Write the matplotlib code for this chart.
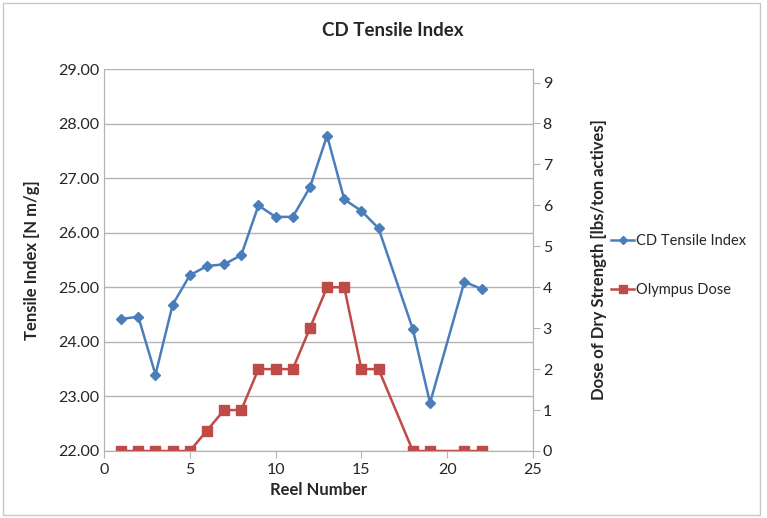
import matplotlib
matplotlib.use('Agg')
import matplotlib.pyplot as plt
from matplotlib.patches import Rectangle

plt.rcParams['font.family'] = ['Lato', 'DejaVu Sans']

# Reel data
reel = [1, 2, 3, 4, 5, 6, 7, 8, 9, 10, 11, 12, 13, 14, 15, 16, 18, 19, 21, 22]
tensile = [24.42, 24.46, 23.40, 24.68, 25.22, 25.39, 25.42, 25.59, 26.50, 26.29,
           26.29, 26.83, 27.78, 26.61, 26.40, 26.08, 24.23, 22.88, 25.10, 24.97]
dose = [0, 0, 0, 0, 0, 0.5, 1, 1, 2, 2, 2, 3, 4, 4, 2, 2, 0, 0, 0, 0]

left_ticks = [22, 23, 24, 25, 26, 27, 28, 29]
right_ticks = list(range(10))
x_ticks = [0, 5, 10, 15, 20, 25]

blue = '#4A7EBB'
red = '#BE4B48'
grid_c = '#B3B3B3'
text_c = '#262626'

fig = plt.figure(figsize=(7.67, 5.18), dpi=100)
ax = fig.add_axes([104 / 767, 1 - 451 / 518, 429 / 767, 382 / 518])
ax2 = ax.twinx()

l1, = ax.plot(reel, tensile, color=blue, lw=1.8, marker='D', ms=5.5,
              label='CD Tensile Index')
l2, = ax2.plot(reel, dose, color=red, lw=1.8, marker='s', ms=6.5,
               label='Olympus Dose')

ax.set_xlim(0, 25)
ax.set_ylim(22, 29)
ax2.set_ylim(0, 9 * (382 / 368.5))
ax.set_xticks(x_ticks)
ax.set_yticks(left_ticks)
ax.set_yticklabels([f'{v:.2f}' for v in left_ticks])
ax2.set_yticks(right_ticks)

ax.yaxis.grid(True, color=grid_c, lw=1)
ax.set_axisbelow(True)

for a in (ax, ax2):
    for s in a.spines.values():
        s.set_color(grid_c)
    a.spines['top'].set_visible(False)
    a.tick_params(colors=grid_c, labelcolor=text_c, labelsize=11.5, length=5,
                  direction='out')
ax.tick_params(axis='y', length=0)
ax2.tick_params(axis='y', pad=2)

ax.set_xlabel('Reel Number', fontsize=12, fontweight='bold', color=text_c, labelpad=4)
ax.set_ylabel('Tensile Index [N m/g]', fontsize=12, fontweight='bold', color=text_c,
              labelpad=13)
ax2.set_ylabel('Dose of Dry Strength [lbs/ton actives]', fontsize=12,
               fontweight='bold', color=text_c, labelpad=28)
fig.text(393 / 767, 1 - 30 / 518, 'CD Tensile Index', ha='center', va='center',
         fontsize=13.5, fontweight='bold', color=text_c)

fig.legend(handles=[l1, l2], loc='center left', bbox_to_anchor=(598 / 767, 1 - 265.5 / 518),
           frameon=False, fontsize=10.5, labelspacing=2.35, handlelength=1.6,
           handletextpad=0.1, labelcolor=text_c, markerscale=0.8)

# chart border
fig.patches.append(Rectangle((3 / 767, 3 / 518), 757 / 767, 512 / 518,
                             transform=fig.transFigure, fill=False,
                             edgecolor='#C8C8C8', lw=1))

fig.savefig('out.png', dpi=100)
